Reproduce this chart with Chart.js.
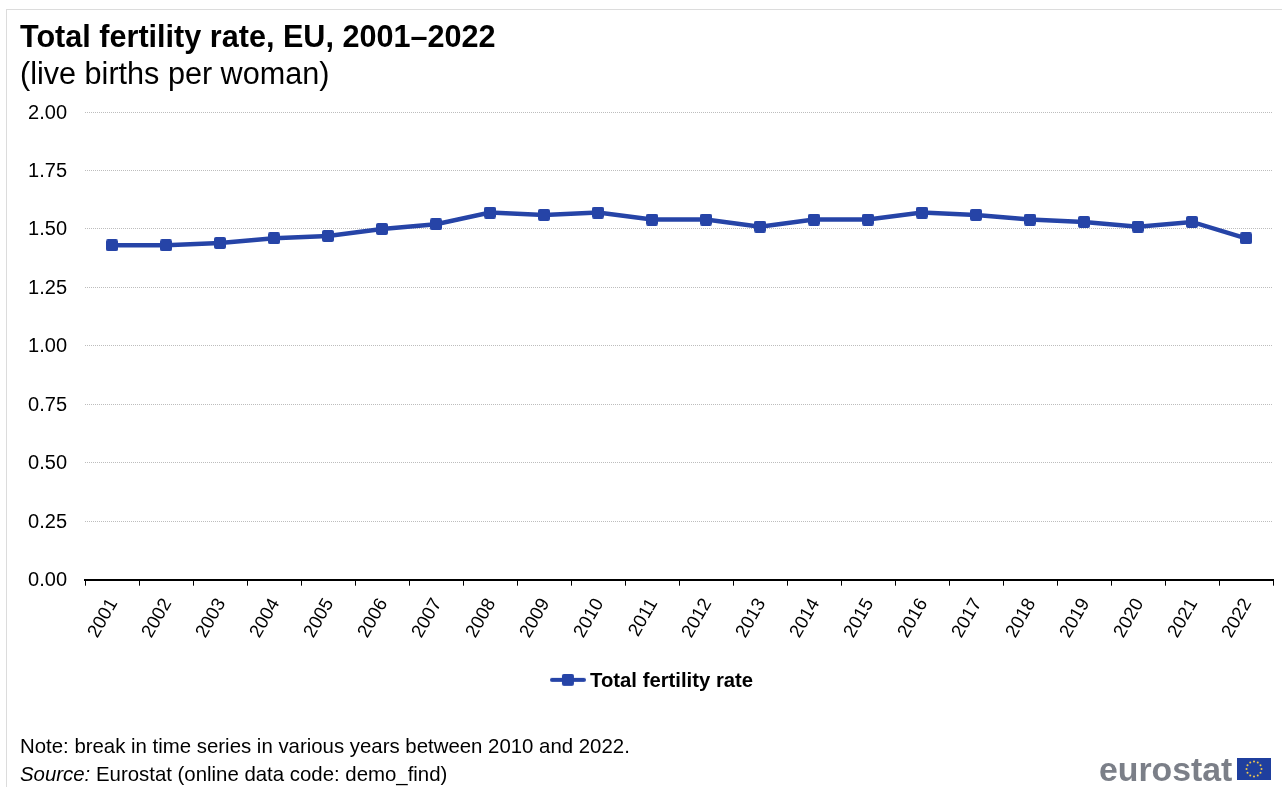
<!DOCTYPE html>
<html>
<head>
<meta charset="utf-8">
<script src="https://cdn.jsdelivr.net/npm/chart.js@4/dist/chart.umd.min.js"></script>
<style>
body { margin: 0; background: #fff; font-family: "Liberation Sans", Arial, sans-serif; }
#wrap { position: relative; width: 1282px; height: 787px; overflow: hidden; }
#frame { position: absolute; left: 6px; top: 9px; width: 1290px; height: 800px; border: 1px solid #dcdcdc; }
#chart { position: absolute; left: 0; top: 0; }
.note { position: absolute; left: 20px; font-size: 20.4px; color: #000; white-space: nowrap; }
#logo { position: absolute; left: 1099px; top: 751px; font: bold 33.8px "Liberation Sans", Arial, sans-serif; color: #7b7f88; line-height: 36px; }
#flag { position: absolute; left: 1237px; top: 758px; }
</style>
</head>
<body>
<div id="wrap">
  <div id="frame"></div>
  <canvas id="chart" width="1282" height="787"></canvas>
  <div class="note" style="top:735px">Note: break in time series in various years between 2010 and 2022.</div>
  <div class="note" style="top:763px"><i>Source:</i> Eurostat (online data code: demo_find)</div>
  <div id="logo">eurostat</div>
  <canvas id="flag" width="34" height="22"></canvas>
</div>
<script>
const years = ['2001','2002','2003','2004','2005','2006','2007','2008','2009','2010','2011','2012','2013','2014','2015','2016','2017','2018','2019','2020','2021','2022'];
const fertility = [1.43,1.43,1.44,1.46,1.47,1.50,1.52,1.57,1.56,1.57,1.54,1.54,1.51,1.54,1.54,1.57,1.56,1.54,1.53,1.51,1.53,1.46];
const yTicks = [0,0.25,0.5,0.75,1,1.25,1.5,1.75,2];
const titleText = 'Total fertility rate, EU, 2001–2022';
const subtitleText = '(live births per woman)';
const seriesName = 'Total fertility rate';
const blue = '#2644a7';

// point marker: small square with soft corners
const marker = document.createElement('canvas');
marker.width = 12; marker.height = 12;
const m = marker.getContext('2d');
m.fillStyle = blue; m.beginPath(); m.roundRect(0, 0, 12, 12, 2); m.fill();

// legend symbol: line with the marker on it, drawn high in its box to line up with the text
const sym = document.createElement('canvas');
sym.width = 36; sym.height = 16;
const s = sym.getContext('2d');
s.strokeStyle = blue; s.lineWidth = 4; s.lineCap = 'round';
s.beginPath(); s.moveTo(2, 6); s.lineTo(34, 6); s.stroke();
s.drawImage(marker, 12, 0);

// EU flag
const f = document.getElementById('flag').getContext('2d');
f.fillStyle = '#1f3f9e'; f.fillRect(0, 0, 34, 22);
f.fillStyle = '#f2c94c';
for (let i = 0; i < 12; i++) {
  const a = i * Math.PI / 6;
  f.beginPath(); f.arc(17 + Math.cos(a) * 7.5, 11 + Math.sin(a) * 7.5, 1, 0, Math.PI * 2); f.fill();
}

// legend sits a little right of the canvas centre in the original
const nudgeLegend = {
    id: 'nudgeLegend',
    afterLayout(chart) { chart.legend.left += 8; chart.legend.right += 8; }
};

new Chart(document.getElementById('chart'), {
    type: 'line',
    plugins: [nudgeLegend],
    data: {
        labels: years,
        datasets: [{
            label: seriesName,
            data: fertility,
            borderColor: blue,
            backgroundColor: blue,
            borderWidth: 4.5,
            pointStyle: marker,
            tension: 0
        }]
    },
    options: {
        responsive: false,
        animation: false,
        layout: { padding: { left: 20, right: 9, top: 0, bottom: 85 } },
        plugins: {
            title: {
                display: true, text: titleText, align: 'start', color: '#000',
                font: { family: '"Liberation Sans"', size: 30.6, weight: 'bold' },
                padding: { top: 20, bottom: 0 }
            },
            subtitle: {
                display: true, text: subtitleText, align: 'start', color: '#000',
                font: { family: '"Liberation Sans"', size: 30.6, weight: 'normal' },
                padding: { top: 0, bottom: 18.6 }
            },
            legend: {
                position: 'bottom',
                labels: {
                    color: '#000', usePointStyle: true, pointStyleWidth: 24,
                    font: { family: '"Liberation Sans"', size: 20.3, weight: 'bold' },
                    generateLabels: () => [{ text: seriesName, pointStyle: sym, fontColor: '#000', lineWidth: 0, strokeStyle: 'transparent', fillStyle: blue }]
                }
            },
            tooltip: { enabled: false }
        },
        scales: {
            x: {
                offset: true,
                afterFit: (scale) => { scale.height = 82; },
                grid: { offset: true, drawOnChartArea: false, drawTicks: true, tickLength: 6, color: '#000', tickColor: '#000' },
                border: { color: '#000', width: 2 },
                ticks: { color: '#000', autoSkip: false, minRotation: 60, maxRotation: 60, padding: 9, labelOffset: 1.5, font: { family: '"Liberation Sans"', size: 18.6 } }
            },
            y: {
                min: 0, max: 2,
                afterFit: (scale) => { scale.width = 65; },
                afterBuildTicks: (scale) => { scale.ticks = yTicks.map(v => ({ value: v })); },
                grid: { color: '#bdbdbd', lineWidth: 1, drawTicks: false },
                border: { display: false, dash: [1, 1] },
                ticks: { color: '#000', padding: 18, labelOffset: 1, callback: v => v.toFixed(2), font: { family: '"Liberation Sans"', size: 20 } }
            }
        }
    }
});
</script>
</body>
</html>
